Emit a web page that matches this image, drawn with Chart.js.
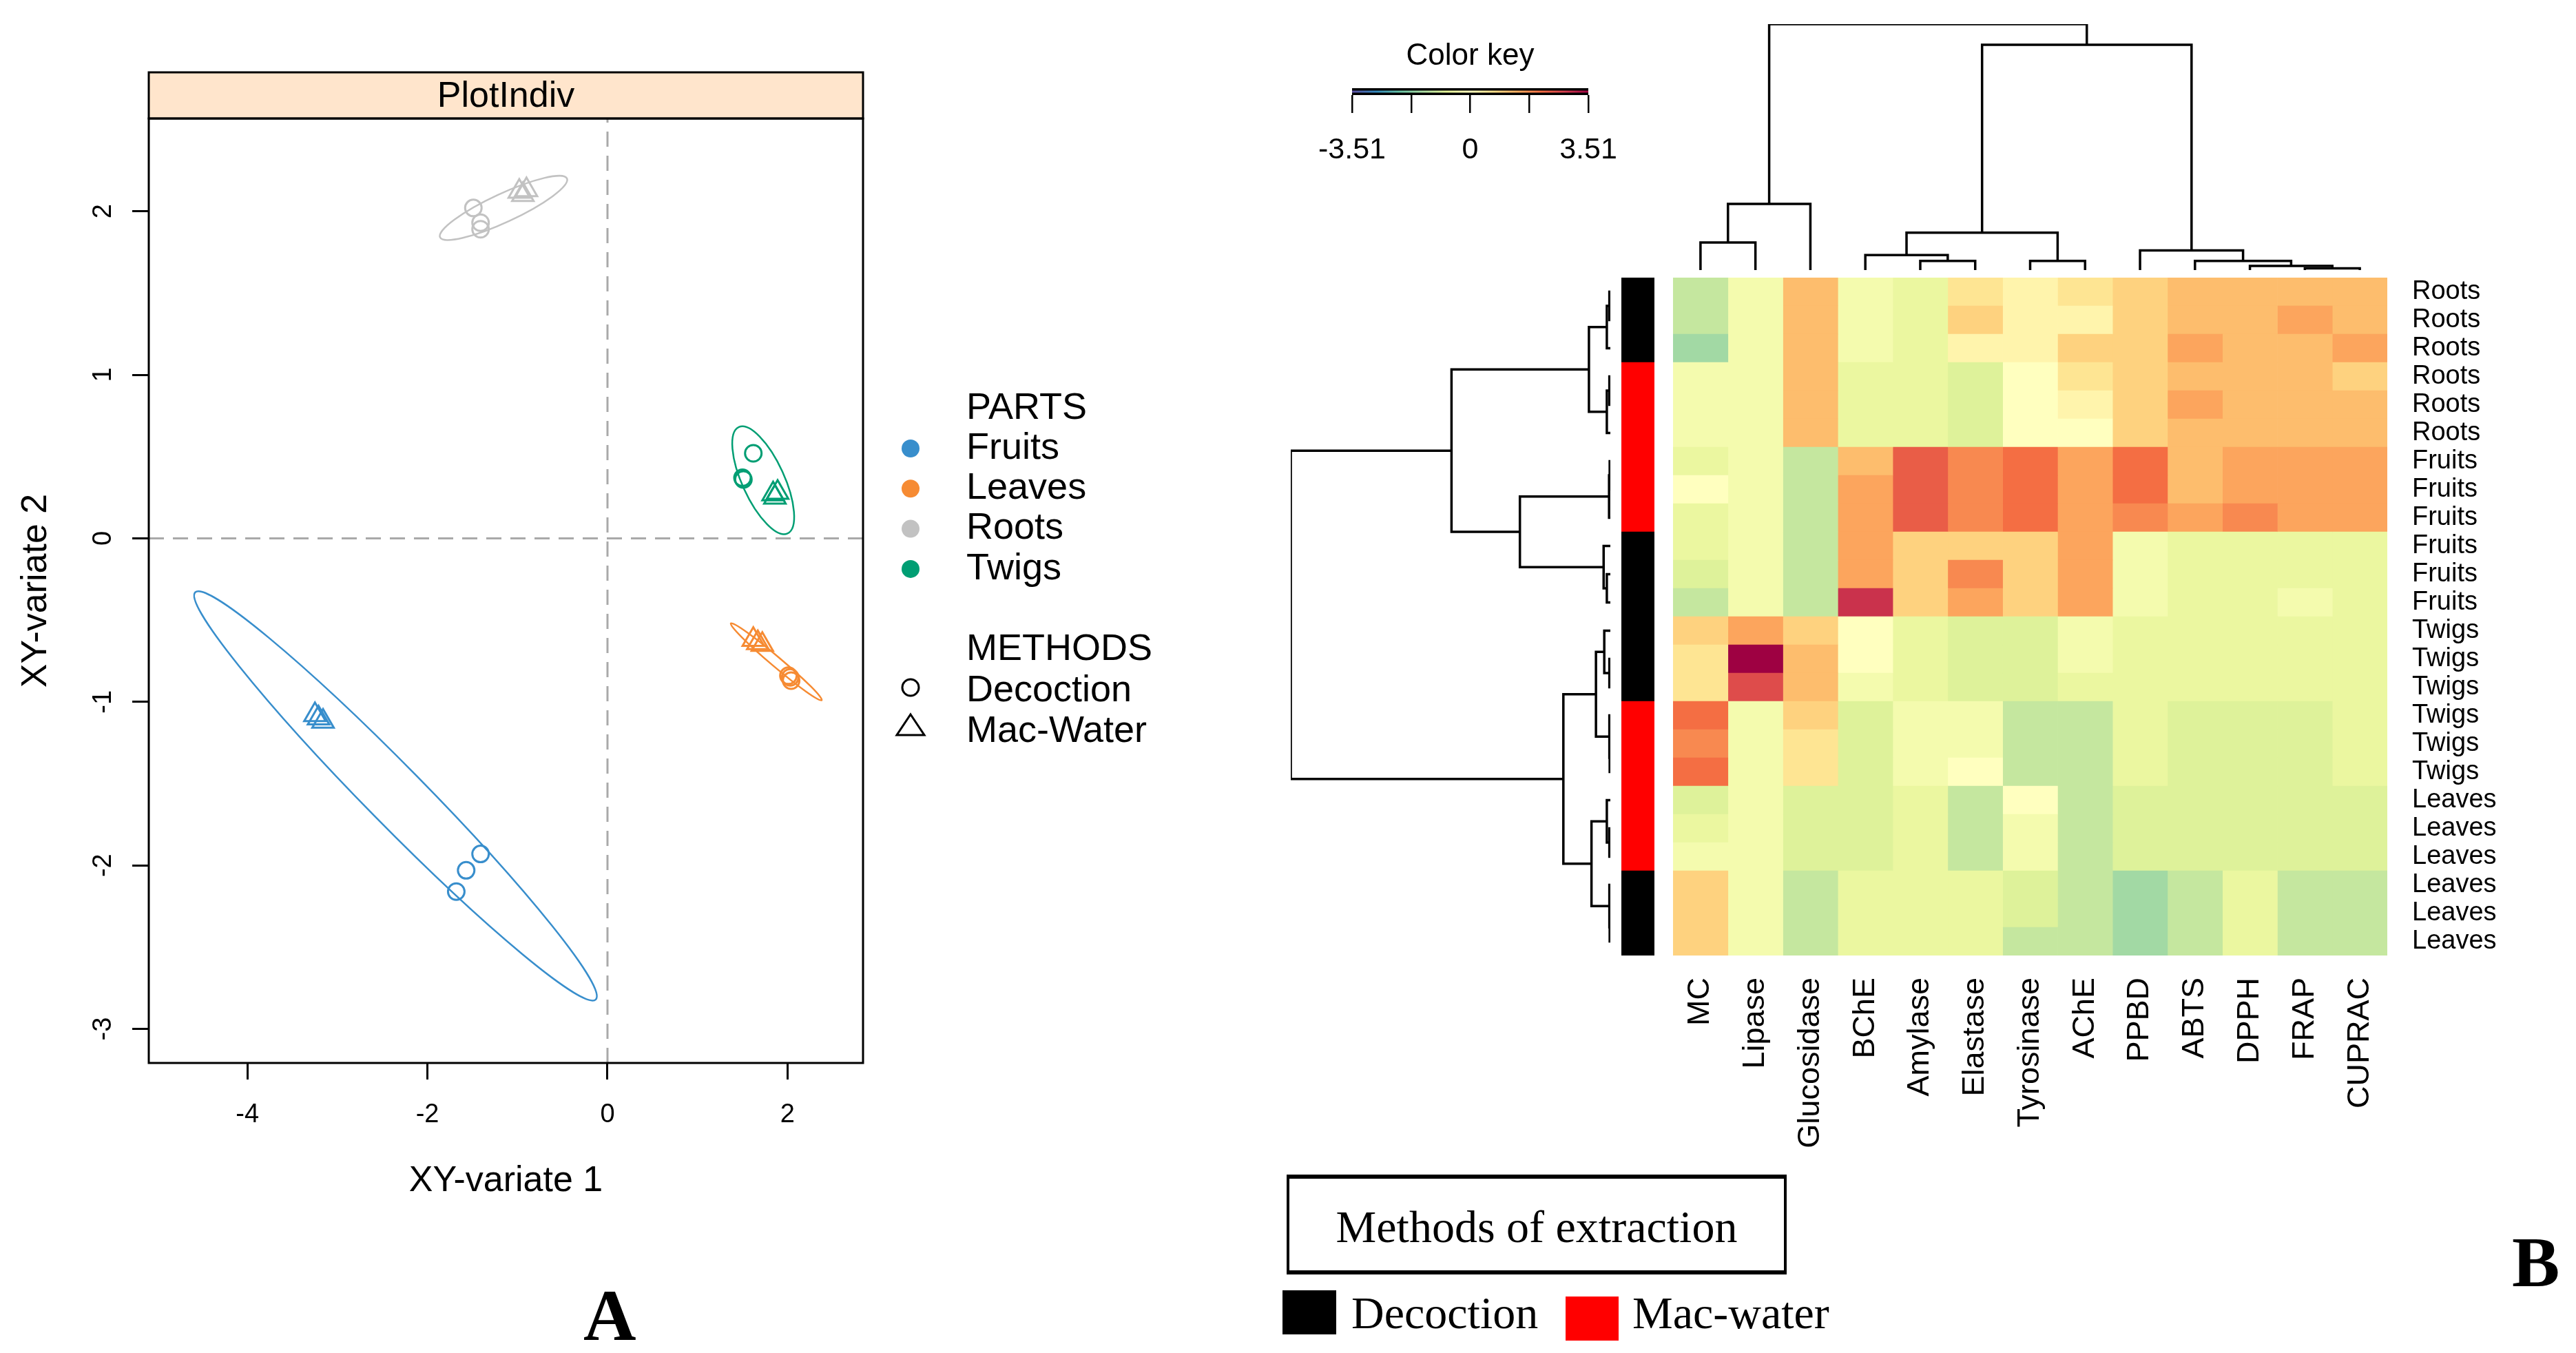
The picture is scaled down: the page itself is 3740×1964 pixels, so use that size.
<!DOCTYPE html>
<html>
<head>
<meta charset="utf-8">
<script src="https://cdn.jsdelivr.net/npm/chart.js@4.4.1/dist/chart.umd.min.js"></script>
<style>
body { margin: 0; width: 3740px; height: 1964px; background: #fff; position: relative; overflow: hidden; }
canvas { position: absolute; }
.serif { position: absolute; font-family: "Liberation Serif", "Times New Roman", serif; color: #000; white-space: nowrap; line-height: 1; }
</style>
</head>
<body>
<div class="serif" style="left:847px;top:1857px;font-size:106px;font-weight:bold">A</div>
<div class="serif" style="left:3647px;top:1780px;font-size:104px;font-weight:bold">B</div>
<div style="position:absolute;left:1868px;top:1705px;width:718px;height:133px;border:4px solid #000;border-top-width:6px;border-bottom-width:6px"></div>
<div class="serif" style="left:1868px;top:1748px;width:726px;text-align:center;font-size:66px">Methods of extraction</div>
<div style="position:absolute;left:1862px;top:1873px;width:78px;height:64px;background:#000"></div>
<div class="serif" style="left:1962px;top:1873px;font-size:66px">Decoction</div>
<div style="position:absolute;left:2273px;top:1882px;width:77px;height:64px;background:#ff0000"></div>
<div class="serif" style="left:2370px;top:1873px;font-size:66px">Mac-water</div>

<script>
// ---- scatter (PlotIndiv) data ----
const partNames = ['Fruits', 'Leaves', 'Roots', 'Twigs'];
const partColors = ['#388ECC', '#F68B33', '#C2C2C2', '#009E73'];
const methodNames = ['Decoction', 'Mac-Water'];

const fruitsDecoction = [[-1.68, -2.16], [-1.57, -2.03], [-1.41, -1.93]];
const fruitsMacWater = [[-3.25, -1.08], [-3.21, -1.10], [-3.16, -1.12]];
const leavesDecoction = [[2.01, -0.84], [2.03, -0.85], [2.04, -0.87]];
const leavesMacWater = [[1.62, -0.62], [1.67, -0.64], [1.72, -0.65]];
const rootsDecoction = [[-1.49, 2.02], [-1.41, 1.93], [-1.41, 1.89]];
const rootsMacWater = [[-0.98, 2.12], [-0.94, 2.10], [-0.90, 2.13]];
const twigsDecoction = [[1.62, 0.52], [1.50, 0.37], [1.51, 0.36]];
const twigsMacWater = [[1.84, 0.27], [1.86, 0.25], [1.89, 0.28]];

// confidence ellipses: centre, major and minor semi-axis vectors (data units)
const ellipseCentre = [[-2.355, -1.575], [1.875, -0.755], [-1.155, 2.02], [1.73, 0.355]];
const ellipseMajor = [[2.225, -1.245], [0.505, -0.235], [0.705, 0.18], [0.27, -0.325]];
const ellipseMinor = [[0.23, 0.125], [0.036, 0.023], [-0.066, 0.079], [0.213, 0.053]];

const xTicks = [-4, -2, 0, 2];
const yTicks = [-3, -2, -1, 0, 1, 2];
const xMin = -5.096, xMax = 2.839, yMin = -3.208, yMax = 2.567;

// ---- heatmap data (scaled values, rows top to bottom) ----
const rowLabels = ['Roots','Roots','Roots','Roots','Roots','Roots','Fruits','Fruits','Fruits','Fruits','Fruits','Fruits',
  'Twigs','Twigs','Twigs','Twigs','Twigs','Twigs','Leaves','Leaves','Leaves','Leaves','Leaves','Leaves'];
const rowMethods = ['Decoction','Decoction','Decoction','Mac-water','Mac-water','Mac-water','Mac-water','Mac-water','Mac-water',
  'Decoction','Decoction','Decoction','Decoction','Decoction','Decoction','Mac-water','Mac-water','Mac-water',
  'Mac-water','Mac-water','Mac-water','Decoction','Decoction','Decoction'];
const methodColors = { 'Decoction': '#000000', 'Mac-water': '#FF0000' };
const colNames = ['MC','Lipase','Glucosidase','BChE','Amylase','Elastase','Tyrosinase','AChE','PPBD','ABTS','DPPH','FRAP','CUPRAC'];

const mcVals = [-1.1,-1.1,-1.5,-0.3,-0.3,-0.3,-0.55,0,-0.55,-0.55,-0.8,-1.1,0.9,0.6,0.6,2.1,1.8,2.1,-0.8,-0.55,-0.3,0.9,0.9,0.9];
const lipaseVals = [-0.3,-0.3,-0.3,-0.3,-0.3,-0.3,-0.3,-0.3,-0.3,-0.3,-0.3,-0.3,1.5,3.51,2.6,-0.3,-0.3,-0.3,-0.3,-0.3,-0.3,-0.3,-0.3,-0.3];
const glucosidaseVals = [1.2,1.2,1.2,1.2,1.2,1.2,-1.1,-1.1,-1.1,-1.1,-1.1,-1.1,0.9,1.2,1.2,0.9,0.6,0.6,-0.8,-0.8,-0.8,-1.1,-1.1,-1.1];
const bcheVals = [-0.3,-0.3,-0.3,-0.55,-0.55,-0.55,1.2,1.5,1.5,1.5,1.5,2.95,0,0,-0.3,-0.8,-0.8,-0.8,-0.8,-0.8,-0.8,-0.55,-0.55,-0.55];
const amylaseVals = [-0.55,-0.55,-0.55,-0.55,-0.55,-0.55,2.35,2.35,2.35,0.9,0.9,0.9,-0.55,-0.55,-0.55,-0.3,-0.3,-0.3,-0.55,-0.55,-0.55,-0.55,-0.55,-0.55];
const elastaseVals = [0.6,0.9,0.25,-0.8,-0.8,-0.8,1.8,1.8,1.8,0.9,1.8,1.5,-0.8,-0.8,-0.8,-0.3,-0.3,0,-1.1,-1.1,-1.1,-0.55,-0.55,-0.55];
const tyrosinaseVals = [0.25,0.25,0.25,0,0,0,2.1,2.1,2.1,0.9,0.9,0.9,-0.8,-0.8,-0.8,-1.1,-1.1,-1.1,0,-0.3,-0.3,-0.8,-0.8,-1.1];
const acheVals = [0.6,0.25,0.9,0.6,0.25,0,1.5,1.5,1.5,1.5,1.5,1.5,-0.3,-0.3,-0.55,-1.1,-1.1,-1.1,-1.1,-1.1,-1.1,-1.1,-1.1,-1.1];
const ppbdVals = [0.9,0.9,0.9,0.9,0.9,0.9,2.1,2.1,1.8,-0.3,-0.3,-0.3,-0.55,-0.55,-0.55,-0.55,-0.55,-0.55,-0.8,-0.8,-0.8,-1.5,-1.5,-1.5];
const abtsVals = [1.2,1.2,1.5,1.2,1.5,1.2,1.2,1.2,1.5,-0.55,-0.55,-0.55,-0.55,-0.55,-0.55,-0.8,-0.8,-0.8,-0.8,-0.8,-0.8,-1.1,-1.1,-1.1];
const dpphVals = [1.2,1.2,1.2,1.2,1.2,1.2,1.5,1.5,1.8,-0.55,-0.55,-0.55,-0.55,-0.55,-0.55,-0.8,-0.8,-0.8,-0.8,-0.8,-0.8,-0.55,-0.55,-0.55];
const frapVals = [1.2,1.5,1.2,1.2,1.2,1.2,1.5,1.5,1.5,-0.55,-0.55,-0.3,-0.55,-0.55,-0.55,-0.8,-0.8,-0.8,-0.8,-0.8,-0.8,-1.1,-1.1,-1.1];
const cupracVals = [1.2,1.2,1.5,0.9,1.2,1.2,1.5,1.5,1.5,-0.55,-0.55,-0.55,-0.55,-0.55,-0.55,-0.55,-0.55,-0.55,-0.8,-0.8,-0.8,-1.1,-1.1,-1.1];

// dendrograms, hclust style: negative = leaf (display order), positive = earlier merge; last = height
const rowMerges = [[-1,-2,0.3],[-4,-5,0.3],[-7,-8,0.2],[-9,3,0.4],[-11,-12,1.1],[-14,-15,0.3],[-17,-18,0.2],[-16,7,0.3],
  [-20,-21,0.3],[-23,-24,0.2],[-22,10,0.3],[1,-3,1.1],[2,-6,1.1],[-19,9,1.1],[-13,6,1.9],[-10,5,2.1],
  [15,8,4.5],[14,11,5.9],[12,13,6.7],[17,18,14.7],[4,16,28.3],[19,21,49.7],[22,20,100]];
const colMerges = [[-12,-13,0.7],[-11,1,1.7],[-5,-6,3.7],[-7,-8,3.7],[-10,2,3.7],[-4,3,6.1],[-9,5,8.0],
  [-1,-2,11.2],[6,4,15.2],[8,-3,26.9],[9,7,91.6],[10,11,100]];

const keyMin = -3.51, keyMax = 3.51;
const keyTicks = [-3.51, -1.755, 0, 1.755, 3.51];
const keyLabels = ['-3.51', '', '0', '', '3.51'];
const spectral = ['#5E4FA2','#3288BD','#66C2A5','#ABDDA4','#E6F598','#FFFFBF','#FEE08B','#FDAE61','#F46D43','#D53E4F','#9E0142'];

Chart.defaults.font.family = '"Liberation Sans", Arial, sans-serif';
Chart.defaults.color = '#000';

function hexRgb(h) {
    return [parseInt(h.slice(1, 3), 16), parseInt(h.slice(3, 5), 16), parseInt(h.slice(5, 7), 16)];
}

function valueToColor(v) {
    let t = (v - keyMin) / (keyMax - keyMin);
    t = Math.max(0, Math.min(1, t));
    const p = t * (spectral.length - 1);
    const i = Math.min(Math.floor(p), spectral.length - 2);
    const f = p - i;
    const a = hexRgb(spectral[i]), b = hexRgb(spectral[i + 1]);
    const c = a.map((ch, k) => Math.round(ch + (b[k] - ch) * f));
    return `rgb(${c[0]},${c[1]},${c[2]})`;
}

function makeCanvas(left, top, w, h) {
    const c = document.createElement('canvas');
    c.width = w; c.height = h;
    c.style.left = left + 'px'; c.style.top = top + 'px';
    c.style.width = w + 'px'; c.style.height = h + 'px';
    document.body.appendChild(c);
    return c;
}

// merge table -> polylines [pos, height]
function dendroSegments(merges) {
    const pos = [], hgt = [], segs = [];
    const nodePos = k => k < 0 ? -k - 1 : pos[k - 1];
    const nodeH = k => k < 0 ? 0 : hgt[k - 1];
    merges.forEach(([a, b, h]) => {
        const pa = nodePos(a), pb = nodePos(b);
        segs.push([[pa, nodeH(a)], [pa, h], [pb, h], [pb, nodeH(b)]]);
        pos.push((pa + pb) / 2);
        hgt.push(h);
    });
    return segs;
}

// keep axis label overhang from pushing the plot area around
function noOverhang(s) {
    s.paddingTop = 0; s.paddingBottom = 0; s.paddingLeft = 0; s.paddingRight = 0;
}

const baseOpts = {
    responsive: false, animation: false, devicePixelRatio: 1,
    plugins: { legend: { display: false }, tooltip: { enabled: false } }
};

// ================= panel A : PlotIndiv =================
const toPts = arr => arr.map(p => ({ x: p[0], y: p[1] }));
const groups = [
    [fruitsDecoction, fruitsMacWater], [leavesDecoction, leavesMacWater],
    [rootsDecoction, rootsMacWater], [twigsDecoction, twigsMacWater]
];
const scatterSets = [
    { data: [{ x: 0, y: yMin }, { x: 0, y: yMax }], showLine: true, borderColor: '#a9a9a9', borderWidth: 3, borderDash: [22, 13], pointRadius: 0 },
    { data: [{ x: xMin, y: 0 }, { x: xMax, y: 0 }], showLine: true, borderColor: '#a9a9a9', borderWidth: 3, borderDash: [22, 13], pointRadius: 0 }
];
groups.forEach((g, i) => {
    g.forEach((pts, m) => {
        scatterSets.push({
            label: partNames[i] + ' ' + methodNames[m],
            data: toPts(pts),
            pointStyle: m === 0 ? 'circle' : 'triangle',
            pointRadius: m === 0 ? 12 : 18,
            pointBorderWidth: 3,
            borderColor: partColors[i],
            pointBackgroundColor: 'rgba(0,0,0,0)'
        });
    });
});

const ellipsePlugin = {
    id: 'ellipses',
    beforeDatasetsDraw(chart) {
        const { ctx, chartArea: a, scales: { x, y } } = chart;
        ctx.save();
        ctx.beginPath(); ctx.rect(a.left, a.top, a.right - a.left, a.bottom - a.top); ctx.clip();
        ellipseCentre.forEach((c, i) => {
            const cx = x.getPixelForValue(c[0]), cy = y.getPixelForValue(c[1]);
            const u = ellipseMajor[i], v = ellipseMinor[i];
            const ux = x.getPixelForValue(c[0] + u[0]) - cx, uy = y.getPixelForValue(c[1] + u[1]) - cy;
            const vx = x.getPixelForValue(c[0] + v[0]) - cx, vy = y.getPixelForValue(c[1] + v[1]) - cy;
            ctx.beginPath();
            ctx.save();
            ctx.transform(ux, uy, vx, vy, cx, cy);
            ctx.arc(0, 0, 1, 0, 2 * Math.PI);
            ctx.restore();
            ctx.strokeStyle = partColors[i];
            ctx.lineWidth = 2.5;
            ctx.stroke();
        });
        ctx.restore();
    }
};

const framePlugin = {
    id: 'frame',
    afterDraw(chart) {
        const { ctx, chartArea: a } = chart;
        ctx.save();
        ctx.strokeStyle = '#000';
        ctx.lineWidth = 3;
        ctx.fillStyle = '#FFE5CC';
        ctx.fillRect(a.left, 105, a.right - a.left, a.top - 105);
        ctx.strokeRect(a.left, 105, a.right - a.left, a.top - 105);
        ctx.strokeRect(a.left, a.top, a.right - a.left, a.bottom - a.top);
        ctx.fillStyle = '#000';
        ctx.font = '52px "Liberation Sans", Arial, sans-serif';
        ctx.textAlign = 'center';
        ctx.textBaseline = 'middle';
        ctx.fillText('PlotIndiv', (a.left + a.right) / 2, 141);

        // legend
        ctx.font = '54px "Liberation Sans", Arial, sans-serif';
        ctx.textAlign = 'left';
        ctx.fillText('PARTS', 1403, 593);
        partNames.forEach((name, i) => {
            const ly = 651 + i * 58.3;
            ctx.beginPath();
            ctx.arc(1322, ly, 13, 0, 2 * Math.PI);
            ctx.fillStyle = partColors[i];
            ctx.fill();
            ctx.fillStyle = '#000';
            ctx.fillText(name, 1403, ly);
        });
        ctx.fillText('METHODS', 1403, 943);
        ctx.fillText(methodNames[0], 1403, 1003);
        ctx.fillText(methodNames[1], 1403, 1062);
        ctx.lineWidth = 3;
        ctx.strokeStyle = '#000';
        ctx.beginPath();
        ctx.arc(1322, 998, 12, 0, 2 * Math.PI);
        ctx.stroke();
        ctx.beginPath();
        ctx.moveTo(1322, 1037); ctx.lineTo(1342, 1067); ctx.lineTo(1302, 1067); ctx.closePath();
        ctx.stroke();
        ctx.restore();
    }
};

new Chart(makeCanvas(0, 0, 1800, 1964), {
    type: 'scatter',
    data: { datasets: scatterSets },
    options: {
        ...baseOpts,
        layout: { padding: { left: 0, top: 172, right: 547, bottom: 0 } },
        scales: {
            x: {
                type: 'linear', min: xMin, max: xMax,
                afterBuildTicks: s => { s.ticks = xTicks.map(v => ({ value: v })); },
                afterFit: s => { s.height = 421; noOverhang(s); },
                grid: { drawOnChartArea: false, drawTicks: true, tickLength: 24, color: '#000', lineWidth: 3 },
                border: { display: false },
                ticks: { font: { size: 38 }, color: '#000', padding: 29, autoSkip: false, maxRotation: 0 },
                title: { display: true, text: 'XY-variate 1', font: { size: 52 }, color: '#000', padding: { top: 0, bottom: 218 } }
            },
            y: {
                type: 'linear', min: yMin, max: yMax,
                afterBuildTicks: s => { s.ticks = yTicks.map(v => ({ value: v })); },
                afterFit: s => { s.width = 216; noOverhang(s); },
                grid: { drawOnChartArea: false, drawTicks: true, tickLength: 24, color: '#000', lineWidth: 3 },
                border: { display: false },
                ticks: { font: { size: 38 }, color: '#000', padding: 25, autoSkip: false, minRotation: 90, maxRotation: 90, crossAlign: 'center' },
                title: { display: true, text: 'XY-variate 2', font: { size: 52 }, color: '#000', padding: { top: 21, bottom: 0 } }
            }
        }
    },
    plugins: [ellipsePlugin, framePlugin]
});

// ================= panel B : heatmap =================
const heatColumns = [mcVals, lipaseVals, glucosidaseVals, bcheVals, amylaseVals, elastaseVals, tyrosinaseVals,
    acheVals, ppbdVals, abtsVals, dpphVals, frapVals, cupracVals];

const HM = { left: 2429, top: 403, w: 1037, h: 984 };
const PAD = 6;

new Chart(makeCanvas(HM.left - PAD, HM.top - PAD, PAD + HM.w + 200 + PAD, PAD + HM.h + 300 + PAD), {
    type: 'bar',
    data: {
        labels: rowLabels,
        datasets: heatColumns.map((vals, j) => ({
            label: colNames[j],
            data: vals.map(() => 1),
            backgroundColor: vals.map(valueToColor),
            borderWidth: 0,
            barPercentage: 1,
            categoryPercentage: 1
        }))
    },
    options: {
        ...baseOpts,
        indexAxis: 'y',
        layout: { padding: PAD },
        scales: {
            x: { type: 'linear', stacked: true, min: 0, max: colNames.length, display: false },
            y: {
                type: 'category', stacked: true, position: 'right',
                grid: { display: false, drawTicks: false }, border: { display: false },
                ticks: { font: { size: 38 }, color: '#000', padding: 36, autoSkip: false },
                afterFit: s => { s.width = 200; noOverhang(s); }
            },
            cols: {
                type: 'category', axis: 'x', position: 'bottom', labels: colNames, offset: true,
                grid: { display: false, drawTicks: false }, border: { display: false },
                ticks: { font: { size: 45 }, color: '#000', padding: 32, autoSkip: false, minRotation: 90, maxRotation: 90 },
                afterFit: s => { s.height = 300; noOverhang(s); }
            }
        }
    }
});

// side colour bar (methods)
new Chart(makeCanvas(2354, HM.top, 48, HM.h), {
    type: 'bar',
    data: {
        labels: rowLabels,
        datasets: [{
            data: rowMethods.map(() => 1),
            backgroundColor: rowMethods.map(m => methodColors[m]),
            borderWidth: 0, barPercentage: 1, categoryPercentage: 1
        }]
    },
    options: {
        ...baseOpts,
        indexAxis: 'y',
        layout: { padding: 0 },
        scales: {
            x: { type: 'linear', min: 0, max: 1, display: false },
            y: { type: 'category', display: false }
        }
    }
});

function dendroSets(merges, rotate) {
    return dendroSegments(merges).map(seg => ({
        data: seg.map(([p, h]) => rotate ? { x: h, y: p } : { x: p, y: h }),
        showLine: true, pointRadius: 0, borderColor: '#000', borderWidth: 3.5,
        borderJoinStyle: 'miter', borderCapStyle: 'butt', tension: 0
    }));
}

// row dendrogram
const RD = { left: 1874, w: 464 };
new Chart(makeCanvas(RD.left - PAD, HM.top - PAD, RD.w + 2 * PAD, HM.h + 2 * PAD), {
    type: 'scatter',
    data: { datasets: dendroSets(rowMerges, true) },
    options: {
        ...baseOpts,
        layout: { padding: PAD },
        scales: {
            x: { type: 'linear', min: 0, max: 100, reverse: true, display: false },
            y: { type: 'linear', min: -0.5, max: rowLabels.length - 0.5, reverse: true, display: false }
        }
    }
});

// column dendrogram
const CD = { top: 35, h: 357 };
new Chart(makeCanvas(HM.left - PAD, CD.top - PAD, HM.w + 2 * PAD, CD.h + 2 * PAD), {
    type: 'scatter',
    data: { datasets: dendroSets(colMerges, false) },
    options: {
        ...baseOpts,
        layout: { padding: PAD },
        scales: {
            x: { type: 'linear', min: -0.5, max: colNames.length - 0.5, display: false },
            y: { type: 'linear', min: 0, max: 100, display: false }
        }
    }
});

// colour key
const keyPlugin = {
    id: 'keyBar',
    afterDraw(chart) {
        const { ctx, chartArea: a, scales: { x } } = chart;
        const x0 = x.getPixelForValue(keyMin), x1 = x.getPixelForValue(keyMax);
        const grad = ctx.createLinearGradient(x0, 0, x1, 0);
        spectral.forEach((c, i) => grad.addColorStop(i / (spectral.length - 1), c));
        ctx.save();
        ctx.fillStyle = grad;
        ctx.fillRect(x0, a.top, x1 - x0, a.bottom - a.top);
        ctx.fillStyle = '#000';
        ctx.fillRect(x0, a.top, x1 - x0, 3.5);
        ctx.fillRect(x0, a.bottom - 3.5, x1 - x0, 3.5);
        ctx.restore();
    }
};
new Chart(makeCanvas(1863, 0, 543, 258), {
    type: 'scatter',
    data: { datasets: [] },
    options: {
        ...baseOpts,
        layout: { padding: { left: 100, right: 100, top: 0, bottom: 0 } },
        plugins: {
            legend: { display: false }, tooltip: { enabled: false },
            title: { display: true, text: 'Color key', font: { size: 44, weight: 'normal' }, color: '#000', padding: { top: 55.6, bottom: 19.6 } }
        },
        scales: {
            x: {
                type: 'linear', min: keyMin, max: keyMax,
                afterBuildTicks: s => { s.ticks = keyTicks.map(v => ({ value: v })); },
                afterFit: s => { s.height = 120; noOverhang(s); },
                grid: { drawOnChartArea: false, drawTicks: true, tickLength: 26, color: '#000', lineWidth: 2.5 },
                border: { display: false },
                ticks: { font: { size: 43 }, color: '#000', padding: 28, autoSkip: false, maxRotation: 0,
                    callback: (v, i) => keyLabels[i] }
            },
            y: { display: false, min: 0, max: 1 }
        }
    },
    plugins: [keyPlugin]
});
</script>
</body>
</html>
